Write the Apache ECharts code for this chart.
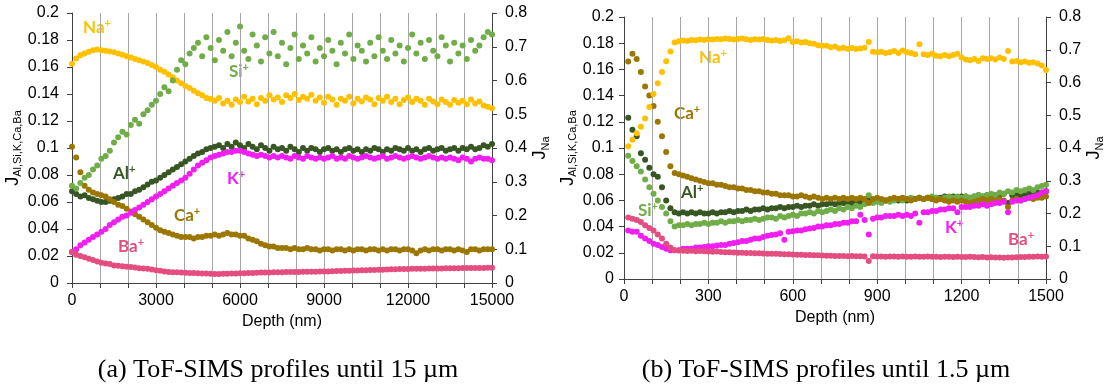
<!DOCTYPE html>
<html>
<head>
<meta charset="utf-8">
<script src="https://cdn.jsdelivr.net/npm/echarts@6/dist/echarts.min.js"></script>
<style>
  html, body { margin: 0; padding: 0; background: #fff; }
  #chart { width: 1107px; height: 390px; }
</style>
</head>
<body>
<div id="chart"></div>
<script>
// (a) 0 - 15000 nm, one reading every 150 nm
const depthA = Array.from({ length: 101 }, (_, i) => i * 150);
// (b) 15 - 1500 nm, one reading every 15 nm
const depthB = Array.from({ length: 100 }, (_, i) => (i + 1) * 15);

const xTicksA = [0, 3000, 6000, 9000, 12000, 15000];
const xTicksB = [0, 300, 600, 900, 1200, 1500];

// ---- panel (a) ----
const naA = [ // right axis (J_Na)
  0.650, 0.665, 0.675, 0.680, 0.685, 0.690, 0.692, 0.690, 0.688, 0.686,
  0.684, 0.680, 0.676, 0.672, 0.668, 0.664, 0.660, 0.656, 0.652, 0.646,
  0.640, 0.632, 0.626, 0.618, 0.610, 0.600, 0.592, 0.584, 0.578, 0.570,
  0.562, 0.556, 0.548, 0.545, 0.540, 0.548, 0.532, 0.540, 0.528, 0.544,
  0.536, 0.552, 0.538, 0.546, 0.530, 0.548, 0.540, 0.556, 0.544, 0.550,
  0.536, 0.556, 0.548, 0.560, 0.542, 0.552, 0.546, 0.558, 0.540, 0.550,
  0.534, 0.552, 0.544, 0.528, 0.546, 0.540, 0.552, 0.532, 0.546, 0.538,
  0.550, 0.544, 0.530, 0.548, 0.540, 0.552, 0.536, 0.546, 0.530, 0.542,
  0.550, 0.536, 0.546, 0.540, 0.528, 0.546, 0.538, 0.530, 0.544, 0.536,
  0.528, 0.542, 0.534, 0.540, 0.530, 0.544, 0.532, 0.538, 0.526, 0.522, 0.518
];
const siA = [
  0.072, 0.070, 0.074, 0.078, 0.080, 0.084, 0.087, 0.092, 0.094, 0.098,
  0.104, 0.108, 0.112, 0.110, 0.117, 0.121, 0.118, 0.125, 0.128, 0.132,
  0.135, 0.140, 0.145, 0.142, 0.150, 0.158, 0.165, 0.162, 0.170, 0.174,
  0.178, 0.168, 0.182, 0.174, 0.165, 0.180, 0.172, 0.186, 0.168, 0.178,
  0.190, 0.172, 0.166, 0.184, 0.176, 0.164, 0.182, 0.170, 0.186, 0.168,
  0.178, 0.162, 0.174, 0.184, 0.166, 0.176, 0.170, 0.182, 0.164, 0.174,
  0.168, 0.180, 0.172, 0.162, 0.178, 0.170, 0.184, 0.166, 0.176, 0.172,
  0.164, 0.178, 0.168, 0.182, 0.172, 0.166, 0.180, 0.170, 0.176, 0.164,
  0.174, 0.184, 0.170, 0.178, 0.166, 0.180, 0.172, 0.168, 0.182, 0.176,
  0.164, 0.178, 0.170, 0.176, 0.166, 0.180, 0.172, 0.176, 0.182, 0.186, 0.184
];
const alA = [
  0.068, 0.066, 0.064, 0.065, 0.063, 0.062, 0.061, 0.060, 0.060, 0.061,
  0.062, 0.063, 0.064, 0.066, 0.066, 0.068, 0.069, 0.071, 0.073, 0.075,
  0.076, 0.078, 0.080, 0.082, 0.084, 0.086, 0.088, 0.090, 0.092, 0.094,
  0.096, 0.097, 0.099, 0.100, 0.101, 0.102, 0.100, 0.103, 0.101, 0.104,
  0.102, 0.100, 0.103, 0.101, 0.099, 0.102, 0.100, 0.098, 0.101, 0.099,
  0.100, 0.098, 0.101, 0.099, 0.097, 0.100, 0.098, 0.100, 0.099, 0.097,
  0.099, 0.100, 0.098, 0.099, 0.097, 0.099, 0.100, 0.098, 0.099, 0.097,
  0.099, 0.098, 0.100, 0.099, 0.097, 0.099, 0.098, 0.100, 0.099, 0.098,
  0.100, 0.098, 0.099, 0.097, 0.099, 0.100, 0.098, 0.099, 0.100, 0.098,
  0.099, 0.100, 0.098, 0.100, 0.099, 0.101, 0.099, 0.100, 0.102, 0.101, 0.103
];
const kA = [
  0.023, 0.025, 0.028, 0.030, 0.032, 0.034, 0.036, 0.038, 0.040, 0.043,
  0.045, 0.047, 0.049, 0.050, 0.052, 0.054, 0.056, 0.058, 0.060, 0.062,
  0.064, 0.066, 0.068, 0.070, 0.072, 0.074, 0.076, 0.078, 0.081, 0.084,
  0.087, 0.089, 0.091, 0.093, 0.094, 0.095, 0.096, 0.097, 0.097, 0.098,
  0.098, 0.097, 0.096, 0.095, 0.094, 0.095, 0.094, 0.093, 0.094, 0.093,
  0.094, 0.093, 0.092, 0.094, 0.093, 0.092, 0.094, 0.093, 0.092, 0.093,
  0.092, 0.093, 0.094, 0.092, 0.093, 0.092, 0.094, 0.093, 0.092, 0.093,
  0.094, 0.093, 0.092, 0.093, 0.094, 0.092, 0.093, 0.094, 0.093, 0.092,
  0.093, 0.094, 0.093, 0.092, 0.093, 0.094, 0.093, 0.092, 0.093, 0.092,
  0.093, 0.092, 0.091, 0.093, 0.092, 0.090, 0.092, 0.093, 0.092, 0.092, 0.091
];
const caA = [
  0.101, 0.093, 0.082, 0.072, 0.069, 0.067, 0.066, 0.065, 0.064, 0.062,
  0.060, 0.058, 0.057, 0.055, 0.053, 0.051, 0.049, 0.047, 0.045, 0.043,
  0.041, 0.039, 0.038, 0.037, 0.036, 0.035, 0.034, 0.034, 0.034, 0.033,
  0.034, 0.034, 0.035, 0.035, 0.036, 0.035, 0.036, 0.037, 0.036, 0.036,
  0.035, 0.035, 0.033, 0.032, 0.031, 0.029, 0.028, 0.027, 0.027, 0.026,
  0.026, 0.026, 0.025, 0.026, 0.025, 0.025, 0.026, 0.025, 0.025, 0.024,
  0.025, 0.025, 0.024, 0.025, 0.025, 0.024, 0.025, 0.024, 0.025, 0.025,
  0.024, 0.025, 0.025, 0.024, 0.025, 0.024, 0.025, 0.025, 0.024, 0.025,
  0.025, 0.024, 0.022, 0.024, 0.025, 0.024, 0.025, 0.025, 0.024, 0.025,
  0.025, 0.024, 0.025, 0.024, 0.023, 0.025, 0.025, 0.024, 0.025, 0.025, 0.025
];
const baA = [
  0.023, 0.021, 0.020, 0.019, 0.018, 0.017, 0.016, 0.015, 0.0145, 0.014,
  0.013, 0.0128, 0.0125, 0.012, 0.0118, 0.0115, 0.011, 0.0108, 0.0105, 0.010,
  0.0095, 0.009, 0.0085, 0.0082, 0.008, 0.008, 0.0078, 0.0076, 0.0075, 0.0074,
  0.0072, 0.0071, 0.007, 0.0068, 0.0067, 0.0067, 0.0068, 0.0069, 0.007, 0.0071,
  0.0072, 0.0073, 0.0074, 0.0075, 0.0076, 0.0077, 0.0078, 0.0078, 0.0079, 0.008,
  0.008, 0.0081, 0.0081, 0.0082, 0.0082, 0.0083, 0.0083, 0.0084, 0.0084, 0.0085,
  0.0085, 0.0086, 0.0087, 0.0088, 0.0089, 0.009, 0.0091, 0.0092, 0.0093, 0.0094,
  0.0095, 0.0096, 0.0097, 0.0098, 0.0099, 0.010, 0.0101, 0.0102, 0.0103, 0.0104,
  0.0104, 0.0105, 0.0105, 0.0106, 0.0106, 0.0107, 0.0107, 0.0108, 0.0108, 0.0109,
  0.0109, 0.011, 0.011, 0.0111, 0.0111, 0.0111, 0.0112, 0.0112, 0.0112, 0.0113, 0.0113
];

// ---- panel (b) ----
const naB = [ // right axis (J_Na)
  0.405, 0.425, 0.445, 0.465, 0.490, 0.525, 0.565, 0.598, 0.632, 0.665,
  0.695, 0.722, 0.726, 0.728, 0.727, 0.730, 0.729, 0.731, 0.730, 0.732,
  0.731, 0.733, 0.732, 0.734, 0.733, 0.731, 0.733, 0.734, 0.732, 0.730,
  0.732, 0.731, 0.733, 0.730, 0.728, 0.730, 0.727, 0.729, 0.735, 0.724,
  0.726, 0.722, 0.724, 0.720, 0.718, 0.714, 0.712, 0.712, 0.708, 0.710,
  0.704, 0.706, 0.703, 0.705, 0.702, 0.704, 0.706, 0.724, 0.694, 0.692,
  0.694, 0.690, 0.692, 0.696, 0.690, 0.698, 0.692, 0.690, 0.686, 0.717,
  0.686, 0.684, 0.688, 0.682, 0.680, 0.684, 0.680, 0.684, 0.688, 0.676,
  0.670, 0.668, 0.672, 0.666, 0.674, 0.672, 0.674, 0.670, 0.676, 0.672,
  0.696, 0.664, 0.666, 0.662, 0.664, 0.660, 0.662, 0.658, 0.652, 0.638
];
const caB = [
  0.166, 0.172, 0.168, 0.158, 0.147, 0.140, 0.132, 0.120, 0.109, 0.097,
  0.086, 0.081, 0.080, 0.079, 0.078, 0.077, 0.076, 0.075, 0.074, 0.073,
  0.073, 0.072, 0.072, 0.071, 0.070, 0.070, 0.069, 0.069, 0.068, 0.068,
  0.067, 0.067, 0.066, 0.066, 0.065, 0.065, 0.064, 0.064, 0.064, 0.063,
  0.063, 0.064, 0.063, 0.062, 0.063, 0.062, 0.061, 0.062, 0.061, 0.062,
  0.061, 0.062, 0.061, 0.062, 0.061, 0.062, 0.061, 0.058, 0.061, 0.062,
  0.061, 0.060, 0.061, 0.062, 0.061, 0.062, 0.061, 0.060, 0.061, 0.062,
  0.061, 0.062, 0.061, 0.060, 0.061, 0.060, 0.059, 0.060, 0.059, 0.060,
  0.059, 0.058, 0.059, 0.060, 0.061, 0.060, 0.061, 0.060, 0.061, 0.060,
  0.055, 0.060, 0.061, 0.060, 0.061, 0.062, 0.061, 0.062, 0.062, 0.063
];
const alB = [
  0.123, 0.114, 0.109, 0.096, 0.091, 0.085, 0.080, 0.078, 0.070, 0.060,
  0.054, 0.051, 0.050, 0.051, 0.050, 0.051, 0.050, 0.051, 0.050, 0.050,
  0.051, 0.050, 0.051, 0.051, 0.052, 0.051, 0.052, 0.052, 0.053, 0.052,
  0.053, 0.053, 0.054, 0.053, 0.054, 0.054, 0.055, 0.054, 0.055, 0.055,
  0.056, 0.055, 0.056, 0.056, 0.057, 0.056, 0.057, 0.057, 0.058, 0.057,
  0.058, 0.058, 0.059, 0.058, 0.059, 0.058, 0.059, 0.062, 0.059, 0.060,
  0.059, 0.060, 0.060, 0.061, 0.060, 0.061, 0.060, 0.061, 0.061, 0.062,
  0.061, 0.062, 0.061, 0.062, 0.062, 0.063, 0.062, 0.063, 0.062, 0.063,
  0.063, 0.062, 0.063, 0.064, 0.063, 0.064, 0.063, 0.064, 0.064, 0.065,
  0.058, 0.064, 0.065, 0.064, 0.065, 0.066, 0.065, 0.066, 0.066, 0.067
];
const siB = [
  0.094, 0.090, 0.086, 0.082, 0.076, 0.070, 0.065, 0.060, 0.055, 0.050,
  0.044, 0.040, 0.041, 0.041, 0.042, 0.041, 0.042, 0.042, 0.043, 0.042,
  0.043, 0.043, 0.044, 0.043, 0.044, 0.044, 0.045, 0.044, 0.045, 0.045,
  0.046, 0.045, 0.046, 0.047, 0.047, 0.046, 0.048, 0.047, 0.048, 0.049,
  0.048, 0.050, 0.050, 0.051, 0.050, 0.052, 0.051, 0.052, 0.053, 0.052,
  0.054, 0.053, 0.055, 0.054, 0.056, 0.055, 0.057, 0.064, 0.058, 0.059,
  0.058, 0.060, 0.059, 0.060, 0.061, 0.060, 0.061, 0.062, 0.061, 0.062,
  0.061, 0.062, 0.063, 0.062, 0.061, 0.062, 0.063, 0.062, 0.063, 0.062,
  0.063, 0.062, 0.063, 0.064, 0.063, 0.064, 0.065, 0.064, 0.066, 0.065,
  0.067, 0.066, 0.068, 0.067, 0.068, 0.069, 0.068, 0.070, 0.071, 0.072
];
const kB = [
  0.037, 0.036, 0.036, 0.033, 0.031, 0.029, 0.027, 0.026, 0.0245, 0.023,
  0.022, 0.022, 0.022, 0.023, 0.023, 0.023, 0.024, 0.024, 0.0245, 0.025,
  0.025, 0.0255, 0.026, 0.026, 0.027, 0.0275, 0.028, 0.029, 0.029, 0.030,
  0.031, 0.031, 0.032, 0.033, 0.0335, 0.034, 0.035, 0.030, 0.036, 0.0365,
  0.037, 0.037, 0.038, 0.0385, 0.039, 0.040, 0.040, 0.041, 0.041, 0.042,
  0.042, 0.043, 0.043, 0.044, 0.044, 0.049, 0.045, 0.034, 0.046, 0.047,
  0.047, 0.048, 0.048, 0.048, 0.049, 0.048, 0.049, 0.048, 0.050, 0.043,
  0.051, 0.051, 0.052, 0.052, 0.053, 0.053, 0.054, 0.054, 0.051, 0.055,
  0.055, 0.055, 0.056, 0.056, 0.057, 0.056, 0.057, 0.058, 0.058, 0.059,
  0.051, 0.059, 0.060, 0.060, 0.061, 0.062, 0.063, 0.064, 0.066, 0.067
];
const baB = [
  0.047, 0.046, 0.045, 0.0435, 0.041, 0.039, 0.037, 0.034, 0.031, 0.027,
  0.024, 0.022, 0.0218, 0.0216, 0.0214, 0.0215, 0.0212, 0.0214, 0.0212, 0.021,
  0.0208, 0.021, 0.0206, 0.0205, 0.0204, 0.0202, 0.020, 0.0201, 0.0199, 0.0198,
  0.0196, 0.0197, 0.0195, 0.0193, 0.0192, 0.0193, 0.019, 0.0189, 0.0188, 0.0187,
  0.0186, 0.0185, 0.0184, 0.0183, 0.0182, 0.0181, 0.018, 0.0178, 0.0177, 0.0176,
  0.0175, 0.0176, 0.0174, 0.0175, 0.0173, 0.0174, 0.0172, 0.0137, 0.0173, 0.0171,
  0.0172, 0.017, 0.0171, 0.0172, 0.017, 0.0171, 0.0169, 0.017, 0.0171, 0.0169,
  0.017, 0.0171, 0.0169, 0.017, 0.0168, 0.0169, 0.017, 0.0168, 0.0169, 0.0167,
  0.0168, 0.0169, 0.0167, 0.0166, 0.0167, 0.0165, 0.0166, 0.0164, 0.0165, 0.0163,
  0.0164, 0.0165, 0.0166, 0.0167, 0.0168, 0.0169, 0.017, 0.0171, 0.017, 0.0172
];

const COLORS = {
  Na: '#FFC000',
  Si: '#70AD47',
  Al: '#375623',
  K: '#F01EF0',
  Ca: '#9C7700',
  Ba: '#E34D80',
};

const FONT = 'Liberation Sans';
const AXIS_COLOR = '#404040';
const GRID_COLOR = '#A6A6A6';

const chart = echarts.init(document.getElementById('chart'), null, { renderer: 'canvas' });

function pts(depth, vals) {
  return depth.map((d, i) => [d, vals[i]]);
}

function dots(name, depth, vals, xi, yi) {
  return {
    name,
    type: 'scatter',
    xAxisIndex: xi,
    yAxisIndex: yi,
    symbol: 'circle',
    symbolSize: 6,
    silent: true,
    itemStyle: { color: COLORS[name], opacity: 1 },
    data: pts(depth, vals),
  };
}

function xAxis(gi, ticks) {
  const interval = ticks[1] - ticks[0];
  return {
    type: 'value',
    gridIndex: gi,
    min: ticks[0],
    max: ticks[ticks.length - 1],
    interval,
    name: 'Depth (nm)',
    nameLocation: 'middle',
    nameGap: gi === 0 ? 28 : 30,
    nameTextStyle: { fontFamily: FONT, fontSize: 16, color: '#000' },
    axisLine: { show: true, onZero: false, lineStyle: { color: AXIS_COLOR, width: 1 } },
    axisTick: { show: true, inside: false, length: 5, lineStyle: { color: AXIS_COLOR } },
    minorTick: { show: true, splitNumber: 3, length: 5, lineStyle: { color: AXIS_COLOR } },
    axisLabel: {
      fontFamily: FONT, fontSize: 16, color: '#000', margin: 10,
      formatter: (v) => String(v),
    },
    splitLine: { show: true, lineStyle: { color: GRID_COLOR, width: 1 } },
    minorSplitLine: { show: true, lineStyle: { color: GRID_COLOR, width: 1 } },
  };
}

function yAxis(gi, pos, max, interval, name, gap, labelMargin) {
  return {
    type: 'value',
    gridIndex: gi,
    position: pos,
    min: 0,
    max,
    interval,
    name,
    nameLocation: 'middle',
    nameRotate: 90,
    nameGap: gap,
    nameTextStyle: {
      fontFamily: FONT,
      color: '#000',
      rich: {
        j: { fontFamily: FONT, fontSize: 18, lineHeight: 22, color: '#000' },
        s: { fontFamily: FONT, fontSize: 11, lineHeight: 12, color: '#000', verticalAlign: 'bottom' },
      },
    },
    axisLine: { show: true, onZero: false, lineStyle: { color: AXIS_COLOR, width: 1 } },
    axisTick: { show: true, inside: false, length: 5, lineStyle: { color: AXIS_COLOR } },
    axisLabel: { fontFamily: FONT, fontSize: 16, color: '#000', margin: labelMargin },
    splitLine: { show: false },
  };
}

// ion labels placed next to their curves
function ionLabel(ion, x, y) {
  return {
    type: 'text',
    x,
    y,
    silent: true,
    style: {
      text: '{b|' + ion + '}{p|+}',
      fill: COLORS[ion],
      verticalAlign: 'middle',
      rich: {
        b: { fontFamily: 'Lato', fontWeight: 'bold', fontSize: 17, lineHeight: 20, fill: COLORS[ion] },
        p: { fontFamily: 'Lato', fontWeight: 'bold', fontSize: 11, lineHeight: 12, fill: COLORS[ion], verticalAlign: 'top' },
      },
    },
  };
}

function caption(text, cx) {
  return {
    type: 'text',
    x: cx,
    y: 370,
    silent: true,
    style: {
      text,
      fill: '#000',
      font: '26px "Liberation Serif"',
      align: 'center',
      verticalAlign: 'middle',
    },
  };
}

const option = {
  animation: false,
  backgroundColor: '#fff',
  grid: [
    { left: 72, top: 13, width: 420, height: 270 },
    { left: 624, top: 17, width: 422, height: 262 },
  ],
  xAxis: [xAxis(0, xTicksA), xAxis(1, xTicksB)],
  yAxis: [
    yAxis(0, 'left', 0.2, 0.02, '{j|J}{s|Al,Si,K,Ca,Ba}', 40, 13),
    yAxis(0, 'right', 0.8, 0.1, '{j|J}{s|Na}', 36, 13),
    yAxis(1, 'left', 0.2, 0.02, '{j|J}{s|Al,Si,K,Ca,Ba}', 40, 10),
    yAxis(1, 'right', 0.8, 0.1, '{j|J}{s|Na}', 36, 13),
  ],
  series: [
    dots('Na', depthA, naA, 0, 1),
    dots('Al', depthA, alA, 0, 0),
    dots('Ca', depthA, caA, 0, 0),
    dots('K', depthA, kA, 0, 0),
    dots('Si', depthA, siA, 0, 0),
    dots('Ba', depthA, baA, 0, 0),

    dots('Al', depthB, alB, 1, 2),
    dots('Si', depthB, siB, 1, 2),
    dots('Ca', depthB, caB, 1, 2),
    dots('K', depthB, kB, 1, 2),
    dots('Ba', depthB, baB, 1, 2),
    dots('Na', depthB, naB, 1, 3),
  ],
  graphic: [
    ionLabel('Na', 83, 28),
    ionLabel('Si', 229, 72),
    ionLabel('Al', 113, 174),
    ionLabel('K', 227, 179),
    ionLabel('Ca', 174, 216),
    ionLabel('Ba', 118, 247),

    ionLabel('Na', 699, 58),
    ionLabel('Ca', 674, 114),
    ionLabel('Al', 681, 193),
    ionLabel('Si', 638, 211),
    ionLabel('K', 945, 228),
    ionLabel('Ba', 1008, 240),

    caption('(a) ToF-SIMS profiles until 15 µm', 278),
    caption('(b) ToF-SIMS profiles until 1.5 µm', 826),
  ],
};

chart.setOption(option);
</script>
</body>
</html>
